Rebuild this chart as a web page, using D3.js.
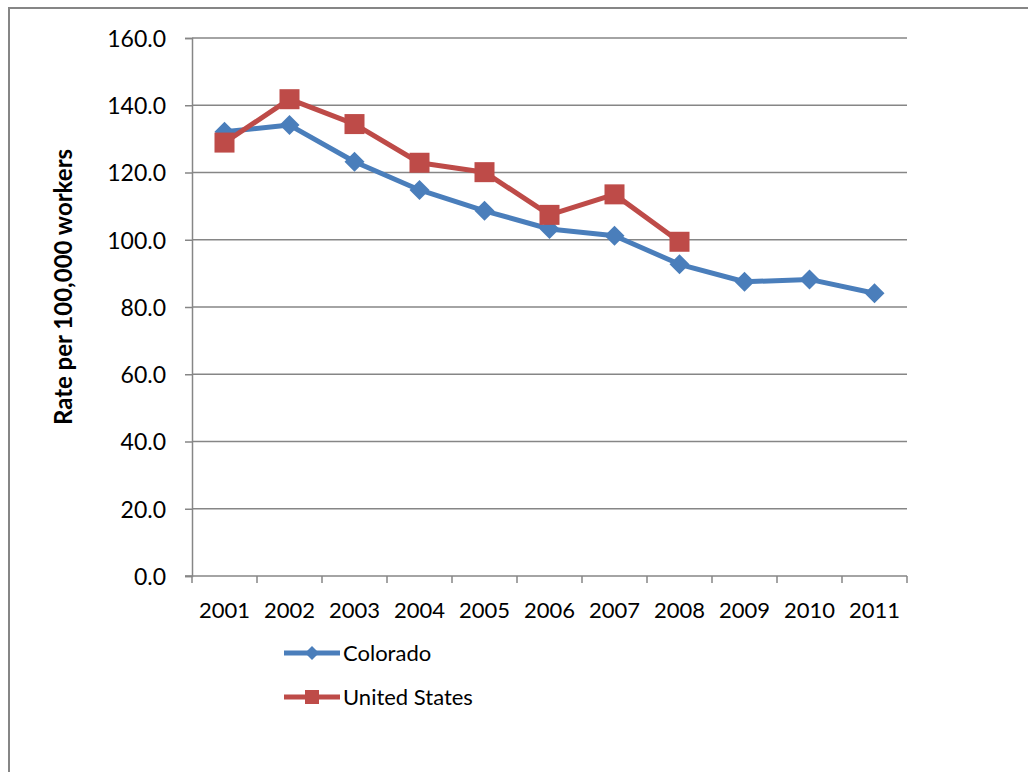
<!DOCTYPE html>
<html>
<head>
<meta charset="utf-8">
<script src="https://cdn.jsdelivr.net/npm/d3@7"></script>
<style>
  body { margin: 0; background: #fff; }
  text { font-family: Lato, "Open Sans", sans-serif; fill: #000; }
</style>
</head>
<body>
<svg id="chart" width="1028" height="772"></svg>
<script>
// data
var years = ["2001", "2002", "2003", "2004", "2005", "2006", "2007", "2008", "2009", "2010", "2011"];
var colorado = [132.1, 134.1, 123.2, 114.8, 108.6, 103.2, 101.2, 92.7, 87.5, 88.2, 84.1];
var unitedStates = [128.9, 141.8, 134.4, 122.9, 120.1, 107.4, 113.5, 99.4];
var yTicks = [0, 20, 40, 60, 80, 100, 120, 140, 160];

var svg = d3.select("#chart");
var grey = "#868686";

// outer chart frame (left + top only visible)
svg.append("path")
  .attr("d", "M9,772 V8 H1028")
  .attr("fill", "none")
  .attr("stroke", grey)
  .attr("stroke-width", 2);

var plotL = 192, plotR = 907, plotT = 38, plotB = 576;

var x = d3.scaleBand().domain(years).range([plotL, plotR]);
var y = d3.scaleLinear().domain([0, 160]).range([plotB, plotT]);

// gridlines
svg.append("g")
  .selectAll("line")
  .data(yTicks.filter(function (d) { return d > 0; }))
  .enter().append("line")
  .attr("x1", plotL).attr("x2", plotR)
  .attr("y1", function (d) { return y(d); })
  .attr("y2", function (d) { return y(d); })
  .attr("stroke", grey)
  .attr("stroke-width", 1.3);

// y axis
var yAxis = svg.append("g")
  .attr("transform", "translate(" + plotL + ",0)")
  .call(d3.axisLeft(y).tickValues(yTicks).tickFormat(d3.format(".1f")).tickSize(7).tickPadding(19));
yAxis.select(".domain").attr("stroke", grey).attr("stroke-width", 1.5);
yAxis.selectAll(".tick line").attr("stroke", grey).attr("stroke-width", 1.5);
yAxis.selectAll("text").style("font-size", "23px").attr("dy", "0.36em");

// x axis
var xTickPos = years.map(function (d) { return x(d); }).concat([plotR]);
var xAxis = svg.append("g")
  .attr("transform", "translate(0," + plotB + ")");
xAxis.append("line")
  .attr("x1", plotL - 7).attr("x2", plotR)
  .attr("stroke", grey).attr("stroke-width", 1.5);
xAxis.selectAll("line.tk")
  .data(xTickPos)
  .enter().append("line")
  .attr("class", "tk")
  .attr("x1", function (d) { return d; }).attr("x2", function (d) { return d; })
  .attr("y1", 0).attr("y2", 7)
  .attr("stroke", grey).attr("stroke-width", 1.5);
xAxis.selectAll("text")
  .data(years)
  .enter().append("text")
  .attr("x", function (d) { return x(d) + x.bandwidth() / 2; })
  .attr("y", 42)
  .attr("text-anchor", "middle")
  .style("font-size", "22px")
  .text(function (d) { return d; });

// y axis title
svg.append("text")
  .attr("transform", "translate(72,287) rotate(-90)")
  .attr("text-anchor", "middle")
  .style("font-size", "24px")
  .style("font-weight", "bold")
  .text("Rate per 100,000 workers");

var cx = function (d, i) { return x(years[i]) + x.bandwidth() / 2; };
var line = d3.line().x(cx).y(function (d) { return y(d); });
var diamond = function (r) { return "M0," + (-r) + "L" + r + ",0L0," + r + "L" + (-r) + ",0Z"; };

var blue = "#4a7ebb", red = "#be4b48";

// Colorado
svg.append("path")
  .datum(colorado)
  .attr("d", line)
  .attr("fill", "none")
  .attr("stroke", blue)
  .attr("stroke-width", 5)
  .attr("stroke-linejoin", "round");
svg.append("g")
  .selectAll("path")
  .data(colorado)
  .enter().append("path")
  .attr("d", diamond(10))
  .attr("transform", function (d, i) { return "translate(" + cx(d, i) + "," + y(d) + ")"; })
  .attr("fill", blue);

// United States
svg.append("path")
  .datum(unitedStates)
  .attr("d", line)
  .attr("fill", "none")
  .attr("stroke", red)
  .attr("stroke-width", 5)
  .attr("stroke-linejoin", "round");
svg.append("g")
  .selectAll("rect")
  .data(unitedStates)
  .enter().append("rect")
  .attr("x", function (d, i) { return cx(d, i) - 10; })
  .attr("y", function (d) { return y(d) - 10; })
  .attr("width", 20).attr("height", 20)
  .attr("fill", red);

// legend
var legend = [
  { name: "Colorado", color: blue, shape: "diamond", y: 653 },
  { name: "United States", color: red, shape: "square", y: 697 }
];
var lg = svg.append("g").selectAll("g").data(legend).enter().append("g")
  .attr("transform", function (d) { return "translate(284," + d.y + ")"; });
lg.append("line")
  .attr("x1", 0).attr("x2", 56)
  .attr("stroke", function (d) { return d.color; })
  .attr("stroke-width", 5);
lg.append("path")
  .attr("d", function (d) {
    return d.shape === "diamond" ? diamond(7) : "M-7,-7H7V7H-7Z";
  })
  .attr("transform", "translate(28,0)")
  .attr("fill", function (d) { return d.color; });
lg.append("text")
  .attr("x", 59)
  .attr("dy", "0.36em")
  .style("font-size", "22px")
  .text(function (d) { return d.name; });
</script>
</body>
</html>
